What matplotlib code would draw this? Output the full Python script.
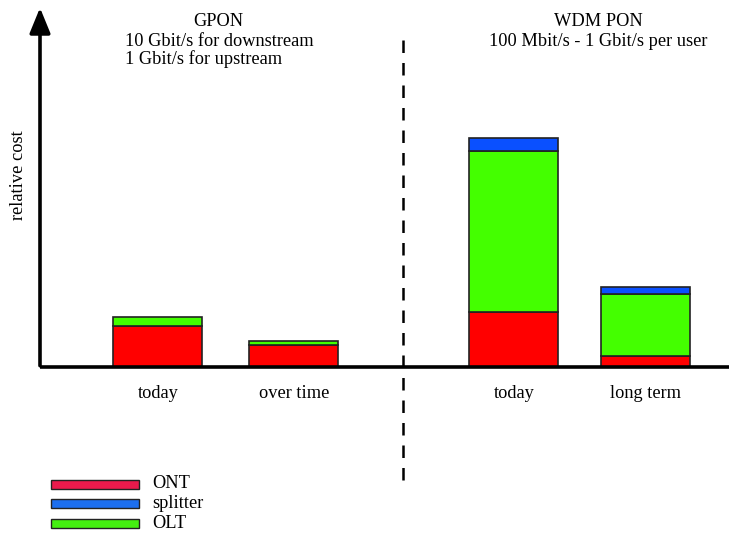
import matplotlib.pyplot as plt
from matplotlib.patches import Rectangle

# relative cost per component (arbitrary units)
categories = ["today", "over time", "today", "long term"]
positions = [158, 294, 514, 646]
ont = [41, 22, 55, 11]
olt = [9, 4, 161, 62]
splitter = [0, 0, 13, 7]

legend_labels = ["ONT", "splitter", "OLT"]
bar_colors = {"ONT": "#ff0000", "splitter": "#0a50ff", "OLT": "#44ff00"}
legend_colors = {"ONT": "#ea1a4c", "splitter": "#1c6ff0", "OLT": "#44f010"}

plt.rcParams['font.family'] = ['Liberation Serif', 'DejaVu Serif']
fs = 13.2

fig = plt.figure(figsize=(7.29, 5.33), dpi=100)
ax = fig.add_axes([0, 0, 1, 1])
ax.set_xlim(0, 729)
ax.set_ylim(-166, 367)
ax.axis('off')

# stacked bars
width = 89
bottom2 = [a + b for a, b in zip(ont, olt)]
ax.bar(positions, ont, width, color=bar_colors["ONT"], edgecolor='#222222', linewidth=1.2, zorder=2)
ax.bar(positions, olt, width, bottom=ont, color=bar_colors["OLT"], edgecolor='#222222', linewidth=1.2, zorder=2)
for x, s, b in zip(positions, splitter, bottom2):
    if s > 0:
        ax.bar(x, s, width, bottom=b, color=bar_colors["splitter"], edgecolor='#222222', linewidth=1.2, zorder=2)

# axes drawn by hand (arrow on y)
ax.plot([40, 729], [0, 0], color='black', lw=2.6, solid_capstyle='butt', zorder=3)
ax.annotate("", xy=(40, 362), xytext=(40, -1.5),
            arrowprops=dict(arrowstyle='-|>,head_width=0.45,head_length=1.1',
                            color='black', lw=2.6, mutation_scale=14))

# divider between the two technologies
ax.plot([403, 403], [327, -118], color='black', lw=1.8, dashes=(5, 4))

# group titles
ax.text(218, 346, "GPON", ha='center', va='center', fontsize=fs)
ax.text(125, 326, "10 Gbit/s for downstream", ha='left', va='center', fontsize=fs)
ax.text(125, 308, "1 Gbit/s for upstream", ha='left', va='center', fontsize=fs)
ax.text(598, 346, "WDM PON", ha='center', va='center', fontsize=fs)
ax.text(598, 326, "100 Mbit/s - 1 Gbit/s per user", ha='center', va='center', fontsize=fs)

ax.text(19, 192, "relative cost", rotation=90, ha='center', va='center', fontsize=fs)

for x, lab in zip(positions, categories):
    ax.text(x, -27, lab, ha='center', va='center', fontsize=fs)

# legend drawn manually
for i, lab in enumerate(legend_labels):
    yc = -117 - i * 19.5
    ax.add_patch(Rectangle((51, yc - 4.5), 88, 9, facecolor=legend_colors[lab],
                           edgecolor='#222222', linewidth=1.0))
    ax.text(152, yc, lab, ha='left', va='center', fontsize=fs)

fig.savefig("out.png", dpi=100)
